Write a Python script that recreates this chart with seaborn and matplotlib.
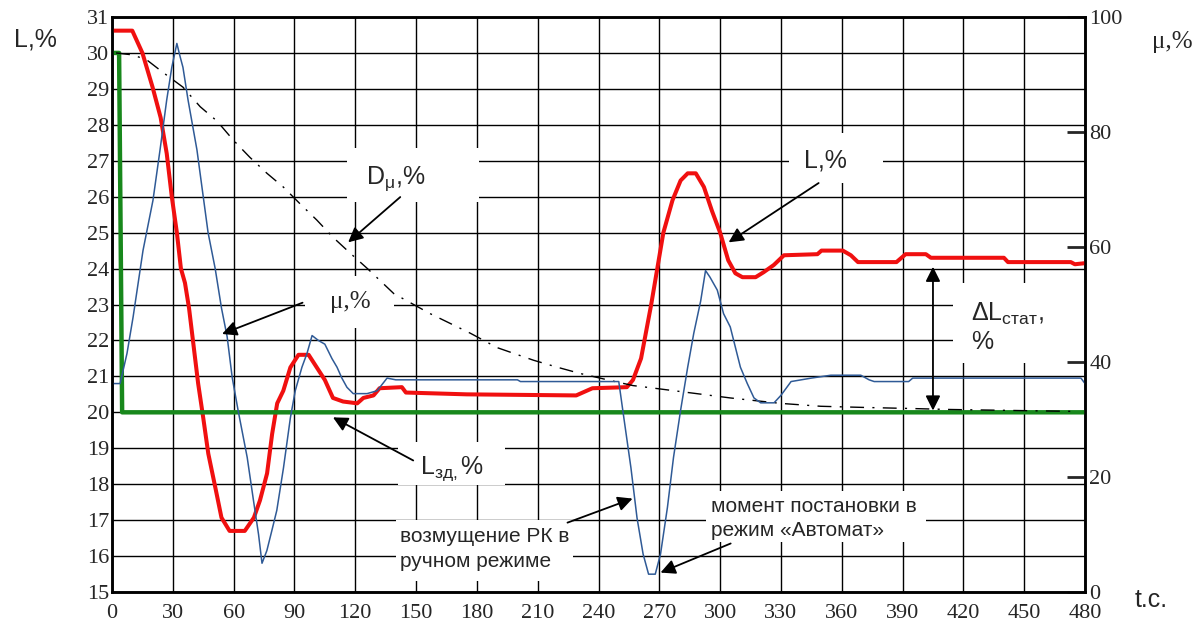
import matplotlib
matplotlib.use("Agg")
import matplotlib.pyplot as plt
import seaborn as sns
import pandas as pd
from matplotlib.patches import Rectangle

# ---------------- data ----------------
# time, s
t_level = [0, 10, 15, 20, 24, 27, 29.5, 32, 34, 36, 38, 39.5, 42.5, 45, 47.5, 51, 54, 58,
           65.5, 70, 73, 76.5, 79, 81.5, 84.5, 88, 92, 97, 101, 105, 109, 114, 121, 124,
           129, 132, 143, 145, 157, 175, 229, 237, 254, 257, 261, 264, 266, 269, 272,
           276.5, 280.5, 284, 288, 292, 296, 300, 304, 307.5, 311, 317.5, 321.5, 326.5,
           331.5, 348, 350, 360.5, 364.5, 368, 387, 391.5, 401.5, 404, 440, 442, 473, 475, 480]
# level L, % (left axis)
level = [30.62, 30.62, 30.0, 29.05, 28.2, 27.2, 26.0, 25.0, 24.0, 23.6, 22.9, 22.2, 20.8,
         19.85, 18.85, 17.9, 17.07, 16.7, 16.7, 17.07, 17.55, 18.3, 19.4, 20.25, 20.6,
         21.25, 21.6, 21.6, 21.25, 20.9, 20.4, 20.3, 20.25, 20.4, 20.47, 20.67, 20.7,
         20.55, 20.53, 20.5, 20.47, 20.67, 20.7, 20.9, 21.5, 22.4, 23.0, 24.0, 25.0,
         25.9, 26.45, 26.65, 26.65, 26.27, 25.6, 25.0, 24.23, 23.87, 23.76, 23.76, 23.9,
         24.1, 24.37, 24.4, 24.5, 24.5, 24.37, 24.18, 24.18, 24.4, 24.4, 24.3, 24.3,
         24.18, 24.18, 24.12, 24.15]

# set point L_zd, % (left axis)
t_setpoint = [0, 3.5, 5, 480]
setpoint = [30, 30, 20, 20]

# valve position mu, % (right axis)
t_mu = [0, 4, 7.4, 10.4, 15.3, 20.2, 23.7, 27, 29.5, 32, 33.6, 35, 37.5, 41.9, 47.4, 50.9,
        54, 56.8, 59.3, 62.2, 66.7, 69.8, 72.3, 74, 76.4, 78.8, 81.3, 84.6, 88, 90.4, 93.7,
        96.2, 98.7, 101.8, 105, 108.5, 111, 113.4, 115.9, 119, 125.8, 130.8, 135.7, 140,
        200, 201.5, 250, 252.5, 256, 259, 262, 264.7, 268, 270.6, 274, 277, 280.5, 284,
        287, 290.4, 292.8, 295, 298.6, 301.7, 305, 310, 313.4, 316.7, 320, 326.6, 330,
        335, 345, 354.6, 369.4, 373.5, 376, 393, 395, 478, 480]
mu = [36.25, 36.25, 41.5, 47.8, 59.4, 68.1, 76.9, 85.6, 91.25, 95.4, 93.1, 91.25, 85.6,
      76.9, 62.5, 56.25, 49.4, 44.4, 37.3, 31.6, 23.4, 15.9, 10.0, 5.0, 7.2, 10.6, 14.2,
      21.6, 30.3, 35.0, 39.1, 41.5, 44.6, 43.75, 43.1, 40.6, 39.1, 37.2, 35.6, 34.5, 34.5,
      35.0, 37.2, 36.9, 36.9, 36.6, 36.6, 30.3, 21.6, 12.9, 6.6, 3.1, 3.1, 6.6, 14.7,
      23.4, 31.6, 39.1, 45.0, 50.6, 55.9, 54.75, 52.5, 48.4, 46.1, 39.1, 36.25, 33.75,
      32.9, 32.9, 34.2, 36.6, 37.2, 37.7, 37.7, 36.9, 36.6, 36.6, 37.2, 37.2, 36.25]

# D_mu, % (right axis)
t_dmu = [2, 10.4, 17.3, 25, 35, 43.5, 51.8, 59.8, 68, 76.5, 84.6, 92.8, 101, 109, 117.6,
         126, 139, 157, 176.8, 190, 208, 219.6, 231, 244.4, 257, 264, 284, 305, 330,
         349.6, 370.8, 395.5, 412, 476]
dmu = [93.75, 93.4, 92.5, 90.4, 87.8, 84.4, 81.9, 78.6, 75.6, 72.8, 70.4, 67.5, 64.7,
       61.7, 58.9, 56.25, 51.9, 48.4, 45.0, 42.5, 40.3, 39.1, 38.0, 36.9, 35.9, 35.6,
       34.7, 33.75, 32.8, 32.3, 32.1, 31.9, 31.75, 31.4]

x_ticks = list(range(0, 481, 30))
left_ticks = list(range(15, 32))
right_ticks = [0, 20, 40, 60, 80, 100]

# ---------------- style ----------------
sns.set_style("white")
plt.rcParams["font.family"] = ["Liberation Sans", "DejaVu Sans"]
plt.rcParams["mathtext.fontset"] = "custom"
plt.rcParams["mathtext.rm"] = "Liberation Sans"
plt.rcParams["mathtext.it"] = "Liberation Sans:italic"

RED = "#f01010"
GREEN = "#18881c"
BLUE = "#2f5a96"

fig = plt.figure(figsize=(11.97, 6.24), dpi=100)
ax = fig.add_axes([112 / 1197, 1 - 592 / 624, (1085 - 112) / 1197, (592 - 17) / 624])
ax.set_xlim(0, 480)
ax.set_ylim(15, 31)
ax.set_xticks(x_ticks)
ax.set_yticks(left_ticks)
ax.grid(True, color="black", lw=1.0)
ax.set_axisbelow(True)
serif = ["Liberation Serif", "DejaVu Serif"]
for lab in ax.get_xticklabels() + ax.get_yticklabels():
    lab.set_family(serif)
    lab.set_fontsize(16)
ax.tick_params(axis="both", length=0, pad=2)
ax.tick_params(axis="x", pad=9)
for sp in ax.spines.values():
    sp.set_color("black")
    sp.set_linewidth(1.8)

# white label boxes hiding the grid
boxes = [(116, 25.85, 65, 1.5), (95.3, 22.36, 44, 1.44), (141, 17.98, 53, 1.2),
         (333.8, 26.38, 46.4, 1.4), (414.8, 21.36, 65.2, 2.24), (140.3, 15.3, 87, 1.7),
         (292.8, 16.38, 108.7, 1.44)]
for (bx, by, bw, bh) in boxes:
    ax.add_patch(Rectangle((bx, by), bw, bh, facecolor="white", edgecolor="none", zorder=1.2))

df_level = pd.DataFrame({"t": t_level, "L": level})
df_sp = pd.DataFrame({"t": t_setpoint, "L": setpoint})
sns.lineplot(data=df_level, x="t", y="L", ax=ax, color=RED, lw=2.9, sort=False,
             estimator=None, zorder=3)
sns.lineplot(data=df_sp, x="t", y="L", ax=ax, color=GREEN, lw=3.2, sort=False,
             estimator=None, zorder=4)
ax.set_xlabel("")
ax.set_ylabel("")

ax2 = ax.twinx()
df_mu = pd.DataFrame({"t": t_mu, "mu": mu})
df_dmu = pd.DataFrame({"t": t_dmu, "d": dmu})
sns.lineplot(data=df_dmu, x="t", y="d", ax=ax2, color="black", lw=1.0, sort=False,
             estimator=None, linestyle=(0, (10, 6, 1.5, 6)))
sns.lineplot(data=df_mu, x="t", y="mu", ax=ax2, color=BLUE, lw=1.1, sort=False,
             estimator=None)
ax2.set_ylim(0, 100)
ax2.set_xlim(0, 480)
ax2.set_yticks(right_ticks)
ax2.set_ylabel("")
ax2.tick_params(axis="y", direction="in", length=13, width=2, pad=3, right=True)
for lab in ax2.get_yticklabels():
    lab.set_family(serif)
    lab.set_fontsize(16)
for sp in ax2.spines.values():
    sp.set_linewidth(1.8)
    sp.set_color("black")

# axis captions
fig.text(35 / 1197, 1 - 40 / 624, "L,%", fontsize=18, ha="center", va="center")
fig.text(1172 / 1197, 1 - 42 / 624, "μ,%", fontsize=18, ha="center", va="center",
         family=serif)
fig.text(1151 / 1197, 1 - 600 / 624, "t.c.", fontsize=18, ha="center", va="center")

# annotations
arrow = dict(arrowstyle="-|>", color="black", lw=1.3, mutation_scale=22,
             shrinkA=0, shrinkB=0)
ax2.annotate("", xy=(116.5, (24.73 - 15) * 6.25), xytext=(142.2, (25.99 - 15) * 6.25),
             arrowprops=arrow)
ax.text(140, 26.5, "D$_{\\mathrm{μ}}$,%", fontsize=18, ha="center", va="center", zorder=6)

ax2.annotate("", xy=(54.3, (22.18 - 15) * 6.25), xytext=(94, (23.05 - 15) * 6.25),
             arrowprops=arrow)
ax.text(117.5, 23.06, "μ,%", fontsize=18, ha="center", va="center", family=serif, zorder=6)

ax2.annotate("", xy=(109, (19.86 - 15) * 6.25), xytext=(148.6, (18.66 - 15) * 6.25),
             arrowprops=arrow)
ax.text(152, 18.44, "L$_{\\mathrm{зд,}}$%", fontsize=18, ha="left", va="center", zorder=6)

ax2.annotate("", xy=(304.2, (24.73 - 15) * 6.25), xytext=(348.6, (26.38 - 15) * 6.25),
             arrowprops=arrow)
ax.text(352, 27.0, "L,%", fontsize=18, ha="center", va="center", zorder=6)

darrow = dict(arrowstyle="<|-|>", color="black", lw=1.3, mutation_scale=22,
              shrinkA=0, shrinkB=0)
ax2.annotate("", xy=(405, (20.05 - 15) * 6.25), xytext=(405, (24.05 - 15) * 6.25),
             arrowprops=darrow)
ax.text(424, 22.75, "ΔL$_{\\mathrm{стат}}$,", fontsize=18, ha="left", va="center", zorder=6)
ax.text(424, 21.95, "%", fontsize=18, ha="left", va="center", zorder=6)

ax2.annotate("", xy=(256.8, (17.6 - 15) * 6.25), xytext=(224.7, (16.93 - 15) * 6.25),
             arrowprops=arrow)
ax.text(142.2, 16.54, "возмущение РК в", fontsize=15, ha="left", va="center", zorder=6)
ax.text(142.2, 15.84, "ручном режиме", fontsize=15, ha="left", va="center", zorder=6)

ax2.annotate("", xy=(270.6, (15.54 - 15) * 6.25), xytext=(305.2, (16.35 - 15) * 6.25),
             arrowprops=arrow)
ax.text(295.3, 17.38, "момент постановки в", fontsize=15, ha="left", va="center", zorder=6)
ax.text(295.3, 16.71, "режим «Автомат»", fontsize=15, ha="left", va="center", zorder=6)

fig.savefig("out.png", dpi=100, facecolor="white")
